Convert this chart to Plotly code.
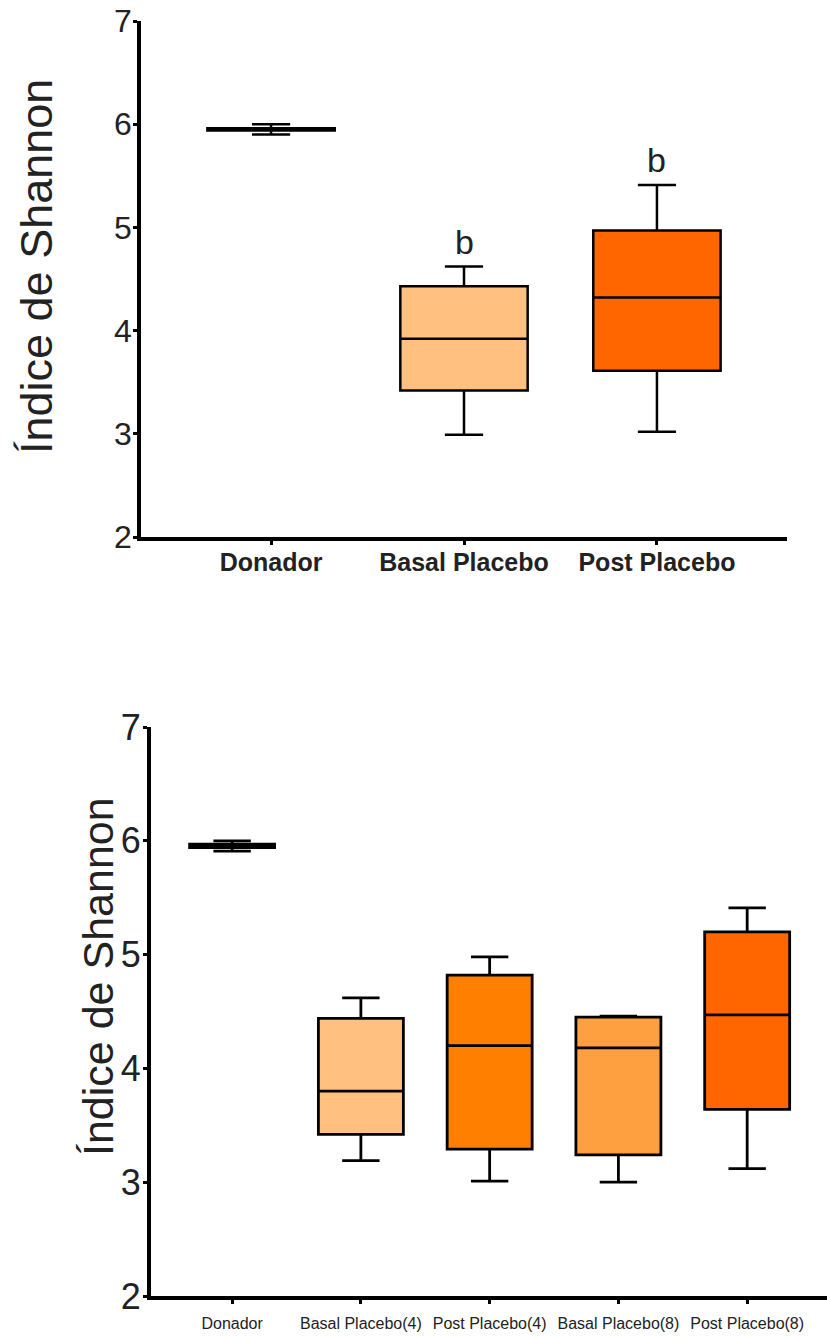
import plotly.graph_objects as go

# ---------------- data ----------------
top_categories = ["Donador", "Basal Placebo", "Post Placebo"]
top_min = [5.90, 2.99, 3.02]
top_q1 = [5.94, 3.42, 3.61]
top_median = [5.95, 3.92, 4.32]
top_q3 = [5.96, 4.43, 4.97]
top_max = [6.00, 4.62, 5.41]
top_colors = ["#FFFFFF", "#FFC080", "#FF6600"]
top_letters = ["", "b", "b"]

bot_categories = ["Donador", "Basal Placebo(4)", "Post Placebo(4)",
                  "Basal Placebo(8)", "Post Placebo(8)"]
bot_min = [5.91, 3.19, 3.01, 3.00, 3.12]
bot_q1 = [5.94, 3.42, 3.29, 3.24, 3.64]
bot_median = [5.96, 3.80, 4.20, 4.18, 4.47]
bot_q3 = [5.97, 4.44, 4.82, 4.45, 5.20]
bot_max = [6.00, 4.62, 4.98, 4.46, 5.41]
bot_colors = ["#FFFFFF", "#FFC080", "#FF8000", "#FFA040", "#FF6600"]

y_ticks = [2, 3, 4, 5, 6, 7]

W, H = 827, 1337
fig = go.Figure()

# top panel boxes
for i, cat in enumerate(top_categories):
    fig.add_trace(go.Box(
        x=[i], q1=[top_q1[i]], median=[top_median[i]], q3=[top_q3[i]],
        lowerfence=[top_min[i]], upperfence=[top_max[i]],
        fillcolor=top_colors[i], line=dict(color="#000000", width=2.5),
        width=0.66, whiskerwidth=0.3, boxpoints=False, name=cat,
        xaxis="x", yaxis="y", showlegend=False, hoverinfo="skip"))

# bottom panel boxes
for i, cat in enumerate(bot_categories):
    fig.add_trace(go.Box(
        x=[i], q1=[bot_q1[i]], median=[bot_median[i]], q3=[bot_q3[i]],
        lowerfence=[bot_min[i]], upperfence=[bot_max[i]],
        fillcolor=bot_colors[i], line=dict(color="#000000", width=2.8),
        width=0.66, whiskerwidth=0.44, boxpoints=False, name=cat,
        xaxis="x2", yaxis="y2", showlegend=False, hoverinfo="skip"))

axis_common = dict(showgrid=False, zeroline=False, showline=True,
                   linecolor="#000000", ticks="outside", tickcolor="#000000",
                   ticklen=4, tickwidth=3, automargin=False)

annotations = []
for i, letter in enumerate(top_letters):
    if letter:
        annotations.append(dict(x=i, y=top_max[i], xref="x", yref="y",
                                text=letter, showarrow=False, yanchor="bottom",
                                yshift=4, font=dict(family="Liberation Sans", size=34, color="#222222")))

annotations.append(dict(x=37 / W, y=(H - 267) / H, xref="paper", yref="paper",
                        text="Índice de Shannon", textangle=-90, showarrow=False,
                        xanchor="center", yanchor="middle",
                        font=dict(family="Liberation Sans", size=45, color="#222222")))
annotations.append(dict(x=98 / W, y=(H - 977) / H, xref="paper", yref="paper",
                        text="Índice de Shannon", textangle=-90, showarrow=False,
                        xanchor="center", yanchor="middle",
                        font=dict(family="Liberation Sans", size=43, color="#222222")))

fig.update_layout(
    width=W, height=H, margin=dict(l=0, r=0, t=0, b=0, autoexpand=False),
    paper_bgcolor="white", plot_bgcolor="white",
    xaxis=dict(domain=[141 / W, 787 / W], range=[-0.674, 2.674],
               tickvals=list(range(len(top_categories))), ticktext=top_categories,
               tickfont=dict(family="Liberation Sans", size=25, color="#222222", weight="bold"),
               linewidth=3.5, ticklabelstandoff=-4, anchor="y", **axis_common),
    yaxis=dict(domain=[(H - 537) / H, (H - 21) / H], range=[2, 7],
               tickvals=y_ticks, ticktext=[str(v) for v in y_ticks],
               tickfont=dict(family="Liberation Sans", size=32, color="#222222"),
               linewidth=3.5, ticklabelstandoff=-5, anchor="x", **axis_common),
    xaxis2=dict(domain=[151 / W, 1.0], range=[-0.63, 4.62],
                tickvals=list(range(len(bot_categories))), ticktext=bot_categories,
                tickfont=dict(family="Liberation Sans", size=16, color="#222222"),
                linewidth=4, ticklabelstandoff=6, anchor="y2", **axis_common),
    yaxis2=dict(domain=[(H - 1296) / H, (H - 727) / H], range=[2, 7],
                tickvals=y_ticks, ticktext=[str(v) for v in y_ticks],
                tickfont=dict(family="Liberation Sans", size=36, color="#222222"),
                linewidth=4, ticklabelstandoff=-5, anchor="x2", **axis_common),
    annotations=annotations,
)

fig.write_html("out.html")
